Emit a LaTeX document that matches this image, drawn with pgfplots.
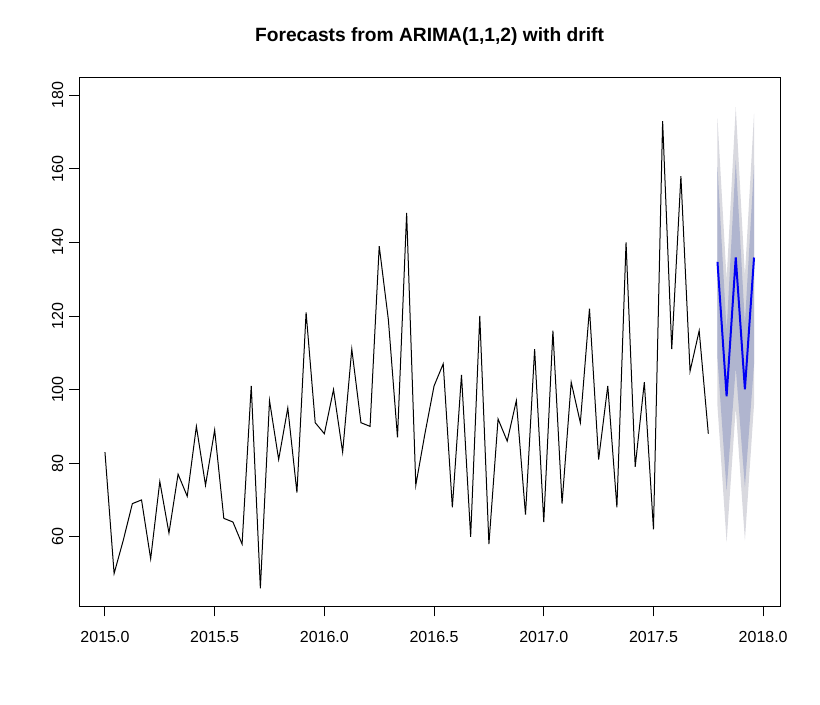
\documentclass[border=0pt]{standalone}
\usepackage{pgfplots}
\pgfplotsset{compat=1.18}
\usepackage{fontspec}
\setmainfont{Liberation Sans}
\definecolor{bandA}{RGB}{217,217,223}
\definecolor{bandB}{RGB}{176,181,207}
\definecolor{fcblue}{RGB}{0,0,245}
\begin{document}
\begin{tikzpicture}
\useasboundingbox (0,0) rectangle (820bp,705bp);
\begin{axis}[
  at={(79bp,98.3bp)}, anchor=south west,
  scale only axis, width=701bp, height=528.7bp,
  xmin=2014.8817, xmax=2018.0767, ymin=40.98, ymax=184.7,
  axis line style={line width=1bp, black},
  xtick={2015,2015.5,2016,2016.5,2017,2017.5,2018},
  ytick={60,80,100,120,140,160,180},
  xtick pos=bottom, ytick pos=left,
  tick align=outside, major tick length=9.6bp,
  tick style={black, line width=1bp},
  minor tick num=0,
  /pgf/number format/assume math mode=true,
  every tick label/.append style={font=\fontsize{16bp}{19bp}\selectfont, inner sep=0pt},
  xticklabel style={/pgf/number format/fixed, /pgf/number format/fixed zerofill, /pgf/number format/precision=1, /pgf/number format/1000 sep={}, anchor=base, yshift=-26.4bp},
  yticklabel style={xshift=-6.4bp, rotate=90, anchor=base},
  title={Forecasts from ARIMA(1,1,2) with drift},
  title style={at={(0.5,1)}, anchor=base, yshift=31bp, inner sep=0pt, font=\bfseries\fontsize{19.2bp}{23bp}\selectfont},
]
% 95% interval
\addplot[fill=bandA, draw=none] coordinates {
(2017.7917,95.5) (2017.8333,58.5) (2017.8750,95.0) (2017.9167,59.0) (2017.9583,96.0)
(2017.9583,175.0) (2017.9167,131.0) (2017.8750,176.8) (2017.8333,130.0) (2017.7917,173.7)
};
% 80% interval
\addplot[fill=bandB, draw=none] coordinates {
(2017.7917,108.5) (2017.8333,72.5) (2017.8750,106.0) (2017.9167,73.5) (2017.9583,107.0)
(2017.9583,161.0) (2017.9167,118.0) (2017.8750,162.3) (2017.8333,116.0) (2017.7917,160.5)
};
% observed series
\addplot[black, line width=1bp, mark=none] coordinates {
(2015.0000,83) (2015.0417,50) (2015.0833,59) (2015.1250,69) (2015.1667,70)
(2015.2083,54) (2015.2500,75) (2015.2917,61) (2015.3333,77) (2015.3750,71)
(2015.4167,90) (2015.4583,74) (2015.5000,89) (2015.5417,65) (2015.5833,64)
(2015.6250,58) (2015.6667,101) (2015.7083,46) (2015.7500,97) (2015.7917,81)
(2015.8333,95) (2015.8750,72) (2015.9167,121) (2015.9583,91) (2016.0000,88)
(2016.0417,100) (2016.0833,83) (2016.1250,111) (2016.1667,91) (2016.2083,90)
(2016.2500,139) (2016.2917,119) (2016.3333,87) (2016.3750,148) (2016.4167,74)
(2016.4583,88) (2016.5000,101) (2016.5417,107) (2016.5833,68) (2016.6250,104)
(2016.6667,60) (2016.7083,120) (2016.7500,58) (2016.7917,92) (2016.8333,86)
(2016.8750,97) (2016.9167,66) (2016.9583,111) (2017.0000,64) (2017.0417,116)
(2017.0833,69) (2017.1250,102) (2017.1667,91) (2017.2083,122) (2017.2500,81)
(2017.2917,101) (2017.3333,68) (2017.3750,140) (2017.4167,79) (2017.4583,102)
(2017.5000,62) (2017.5417,173) (2017.5833,111) (2017.6250,158) (2017.6667,105)
(2017.7083,116) (2017.7500,88)
};
% point forecasts
\addplot[fcblue, line width=2bp, mark=none] coordinates {
(2017.7917,134.7) (2017.8333,98.2) (2017.8750,135.9) (2017.9167,100.1) (2017.9583,135.9)
};
\end{axis}
\end{tikzpicture}
\end{document}
